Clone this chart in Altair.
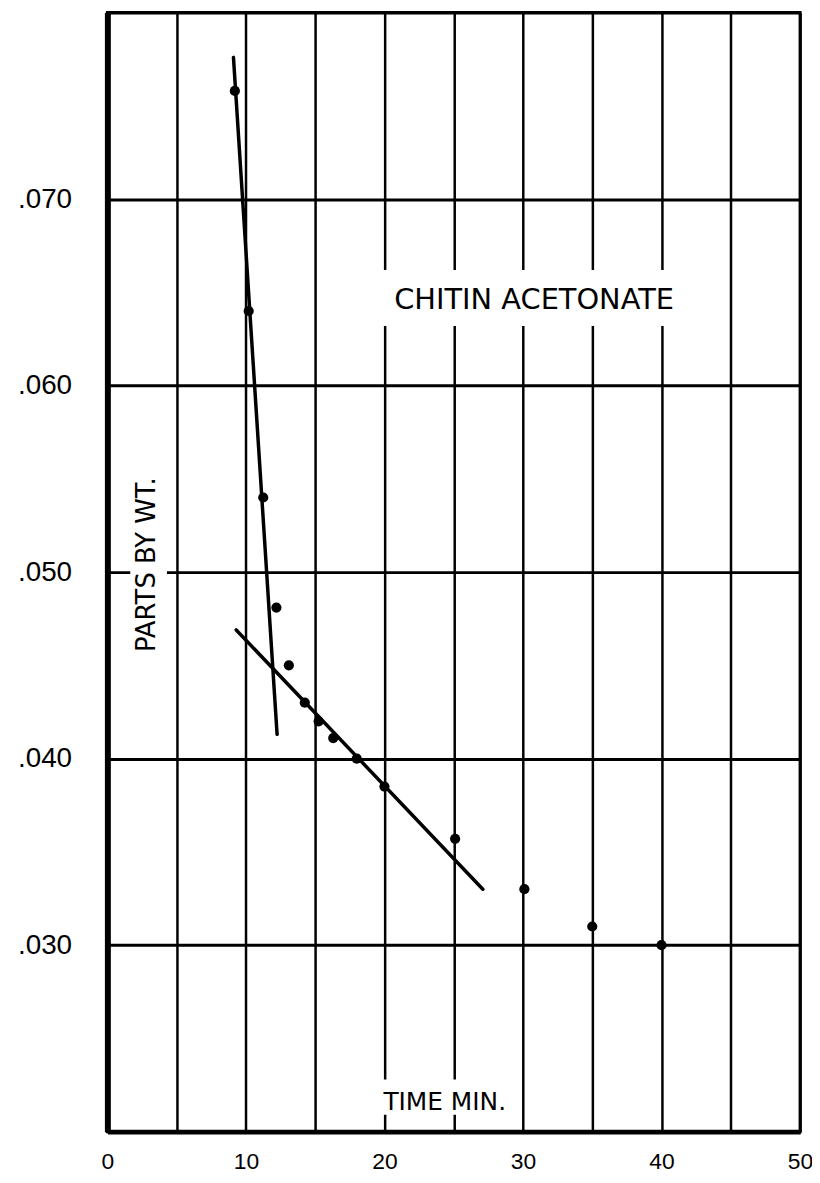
import altair as alt
import pandas as pd

# ---- data ----
TIME_MIN = [9.2, 10.2, 11.25, 12.2, 13.1, 14.25, 15.25, 16.3, 18.0, 20.0, 25.1, 30.1, 35.0, 40.0]
PARTS_BY_WT = [0.0758, 0.0640, 0.0540, 0.0481, 0.0450, 0.0430, 0.0420, 0.0411, 0.0400, 0.0385,
               0.0357, 0.0330, 0.0310, 0.0300]

# two hand-drawn fitted lines (end points)
LINE_ID = ["steep", "steep", "shallow", "shallow"]
LINE_X = [9.1, 12.25, 9.3, 27.1]
LINE_Y = [0.0776, 0.0413, 0.0469, 0.0330]

# axis ticks
X_GRID = [0, 5, 10, 15, 20, 25, 30, 35, 40, 45, 50]
X_TICK_LABELS = [0, 10, 20, 30, 40, 50]
Y_GRID = [0.02, 0.03, 0.04, 0.05, 0.06, 0.07, 0.08]
Y_TICK_LABELS = [".030", ".040", ".050", ".060", ".070"]

# annotations (data coordinates)
ANNOT_TEXT = ["CHITIN ACETONATE", "PARTS BY WT.", "TIME MIN."]
ANNOT_X = [30.8, 2.87, 24.35]
ANNOT_Y = [0.0646, 0.0504, 0.0216]
BOX_X1 = [19.5, 1.65, 18.9]
BOX_X2 = [42.5, 4.3, 29.6]
BOX_Y1 = [0.0632, 0.0450, 0.0209]
BOX_Y2 = [0.0662, 0.0558, 0.0228]

pts = pd.DataFrame({"t": TIME_MIN, "p": PARTS_BY_WT})
lines = pd.DataFrame({"id": LINE_ID, "t": LINE_X, "p": LINE_Y})
annot = pd.DataFrame({"label": ANNOT_TEXT, "t": ANNOT_X, "p": ANNOT_Y,
                      "x1": BOX_X1, "x2": BOX_X2, "y1": BOX_Y1, "y2": BOX_Y2})

x_label_expr = "indexof([" + ",".join(str(v) for v in X_TICK_LABELS) + "], datum.value) >= 0 ? datum.label : ''"
y_label_expr = ("indexof([" + ",".join('"' + s + '"' for s in Y_TICK_LABELS) + "], "
                "replace(format(datum.value, '.3f'), '0.', '.')) >= 0 ? "
                "replace(format(datum.value, '.3f'), '0.', '.') : ''")

xscale = alt.Scale(domain=[0, 50], nice=False, zero=False)
yscale = alt.Scale(domain=[0.02, 0.08], nice=False, zero=False)

xaxis = alt.Axis(values=X_GRID, labelExpr=x_label_expr, grid=True, gridColor="black",
                 gridWidth=2.5, gridOpacity=1, domainColor="black", domainWidth=5,
                 ticks=False, tickSize=0, labelPadding=19,
                 labelFont="Liberation Sans", labelFontSize=23,
                 labelColor="black", labelFlush=False, labelOverlap=False, labelBound=False,
                 title=None)
yaxis = alt.Axis(values=Y_GRID, labelExpr=y_label_expr, grid=True, gridColor="black",
                 gridWidth=3, gridOpacity=1, domainColor="black", domainWidth=6,
                 ticks=False, tickSize=0, labelPadding=36,
                 labelFont="Liberation Sans", labelFontSize=28, labelColor="black",
                 labelFlush=False, labelOverlap=False, labelBound=False, title=None)

X = alt.X("t:Q", scale=xscale, axis=xaxis)
Y = alt.Y("p:Q", scale=yscale, axis=yaxis)

boxes = alt.Chart(annot).mark_rect(fill="white").encode(
    x=alt.X("x1:Q", scale=xscale, axis=xaxis), x2="x2:Q",
    y=alt.Y("y1:Q", scale=yscale, axis=yaxis), y2="y2:Q")

fit = alt.Chart(lines).mark_line(color="black", strokeWidth=3.5, strokeCap="round").encode(
    x=X, y=Y, detail="id:N")

dots = alt.Chart(pts).mark_circle(color="black", opacity=1, size=105).encode(x=X, y=Y)

title_txt = alt.Chart(annot).transform_filter(
    alt.datum.label == ANNOT_TEXT[0]).mark_text(
    font="DejaVu Sans", fontSize=29, color="black", align="center", baseline="middle").encode(
    x=X, y=Y, text="label:N")

ylab_txt = alt.Chart(annot).transform_filter(
    alt.datum.label == ANNOT_TEXT[1]).mark_text(
    font="DejaVu Sans", fontSize=26, color="black", align="center", baseline="middle",
    angle=270).encode(x=X, y=Y, text="label:N")

xlab_txt = alt.Chart(annot).transform_filter(
    alt.datum.label == ANNOT_TEXT[2]).mark_text(
    font="DejaVu Sans", fontSize=25, color="black", align="center", baseline="middle").encode(
    x=X, y=Y, text="label:N")

chart = alt.layer(boxes, fit, dots, title_txt, ylab_txt, xlab_txt).properties(
    width=697, height=1126,
    autosize=alt.AutoSizeParams(type="none"),
    padding={"left": 100, "top": 1, "right": 12, "bottom": 40},
    background="white",
).configure_view(stroke="black", strokeWidth=3)

chart.save("out.html", embed_options={"renderer": "svg", "actions": False})
